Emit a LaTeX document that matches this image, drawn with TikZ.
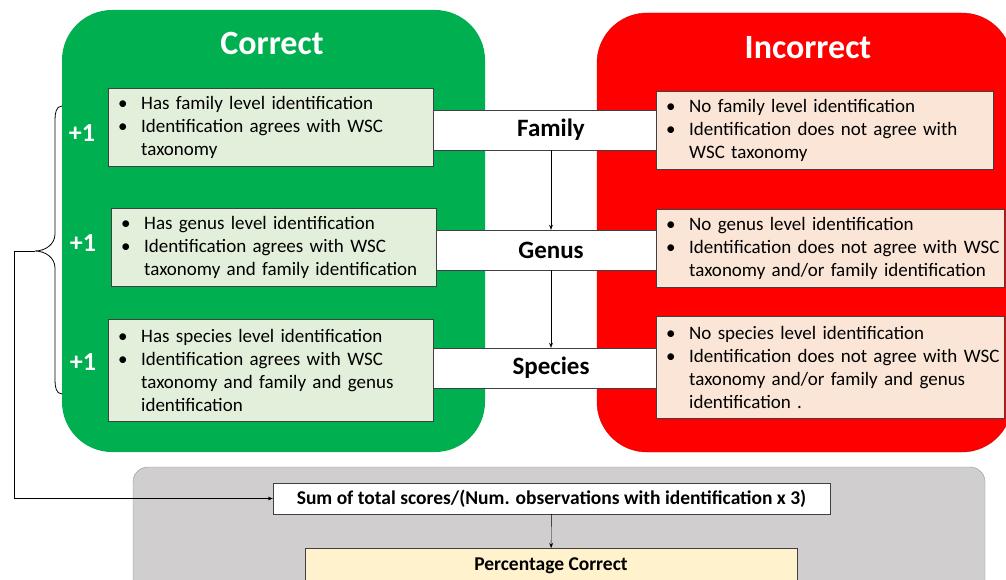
\documentclass[tikz,border=0pt]{standalone}
\usepackage{fontspec}
\setmainfont{Carlito}
\usetikzlibrary{arrows.meta}

\definecolor{okgreen}{HTML}{00B050}
\definecolor{okfill}{HTML}{E2EFDA}
\definecolor{badred}{HTML}{FF0000}
\definecolor{badfill}{HTML}{FBE5D6}
\definecolor{sumgray}{HTML}{D0CECE}
\definecolor{sumedge}{HTML}{8497B0}
\definecolor{pctfill}{HTML}{FFF2CC}

\newcommand{\bul}[1]{\hangindent=29pt\hangafter=1\noindent\makebox[29pt][l]{\hspace{6pt}\textbullet}#1\par}

\tikzset{
  listbox/.style={draw=black!75, anchor=north west, inner sep=4pt,
    font=\fontsize{19}{23}\selectfont\raggedright},
  okbox/.style={listbox, fill=okfill},
  badbox/.style={listbox, fill=badfill},
  bar/.style={draw=black!75, fill=white, minimum width=250pt, minimum height=40pt,
    font=\fontsize{25}{28}\selectfont\bfseries},
  title/.style={text=white, font=\fontsize{34}{38}\selectfont\bfseries},
  plusone/.style={text=white, font=\fontsize{26}{28}\selectfont\bfseries},
  calc/.style={draw=black!75, font=\fontsize{19.5}{22}\selectfont\bfseries}
}

\begin{document}
\begin{tikzpicture}[x=1pt, y=-1pt]
\clip (0,0) rectangle (1006,580);
\fill[white] (0,0) rectangle (1006,580);
% panels
\fill[okgreen, rounded corners=50pt] (62,10) rectangle (485,452);
\draw[fill=badred, draw=red!85!black, rounded corners=50pt] (597,13) rectangle (1012,452);
\draw[fill=sumgray, draw=sumedge, rounded corners=15pt] (133,467) rectangle (985,600);
\node[title] (TC) at (272,43) {Correct};
\node[title] (TI) at (808,48) {Incorrect};
% level bars
\node[bar] (F) at (551,130) {Family};
\node[bar] (G) at (551,250) {Genus};
\node[bar] (S) at (551,368) {Species};
\path[-{Stealth[length=5pt]}, draw=black] (F) edge (G);
\path[-{Stealth[length=5pt]}, draw=black] (G) edge (S);
% correct side
\node[okbox, text width=317pt, minimum height=78pt] (C1) at (108,88) {\bul{Has family level identification}\bul{Identification agrees with WSC\newline taxonomy}};
\node[okbox, text width=317pt, minimum height=78pt] (C2) at (111,208) {\bul{Has genus level identification}\bul{Identification agrees with WSC\newline taxonomy and family identification}};
\node[okbox, text width=317pt, minimum height=102pt] (C3) at (108,319) {\bul{Has species level identification}\bul{Identification agrees with WSC\newline taxonomy and family and genus\newline identification}};
\node[plusone] (P1) at (82,133) {+1};
\node[plusone] (P2) at (83,243) {+1};
\node[plusone] (P3) at (83,362) {+1};
% incorrect side
\node[badbox, text width=329pt, minimum height=78pt] (I1) at (656,91) {\bul{No family level identification}\bul{Identification does not agree with\newline WSC taxonomy}};
\node[badbox, text width=340pt, minimum height=78pt] (I2) at (656,209) {\bul{No genus level identification}\bul{Identification does not agree with WSC\newline taxonomy and/or family identification}};
\node[badbox, text width=340pt, minimum height=102pt] (I3) at (656,316) {\bul{No species level identification}\bul{Identification does not agree with WSC\newline taxonomy and/or family and genus\newline identification .}};
% brace
\draw[black, thick] (62,106) to[out=180,in=90] (55,120) -- (55,234)
  to[out=-90,in=0] (35,251) to[out=0,in=90] (55,268) -- (55,380)
  to[out=-90,in=180] (62,394);
\coordinate (tip) at (35,251);
% score
\node[calc, fill=white, minimum width=557pt, minimum height=31pt] (Sum) at (551.5,498.5) {Sum of total scores/(Num. observations with identification x 3)};
\node[calc, fill=pctfill, minimum width=492pt, minimum height=36pt, anchor=north] (Pct) at (551,548) {Percentage Correct};
\draw[-{Stealth[length=5pt]}] (tip) -- (14,251) |- (Sum.west);
\draw[-{Stealth[length=5pt]}] (Sum) -- (Pct);
\end{tikzpicture}
\end{document}
